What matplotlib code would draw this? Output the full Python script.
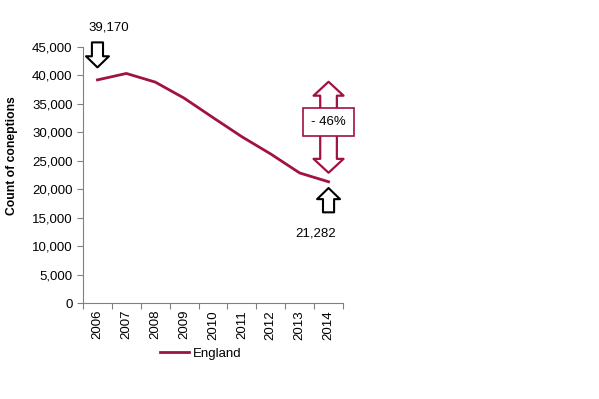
import matplotlib
matplotlib.use("Agg")
import matplotlib.pyplot as plt
import matplotlib.transforms as mtransforms
from matplotlib.ticker import FuncFormatter

# ----------------------------
# DATA
# ----------------------------

years = ["2006", "2007", "2008", "2009", "2010", "2011", "2012", "2013", "2014"]
conceptions = [39170, 40298, 38785, 35966, 32552, 29189, 26157, 22830, 21282]
series_name = "England"
change_label = "- 46%"

CRIMSON = "#A1123F"

plt.rcParams["font.family"] = ["Liberation Sans", "DejaVu Sans"]
plt.rcParams["font.size"] = 9.5

# ----------------------------
# PLOT
# ----------------------------

fig = plt.figure(figsize=(5.99, 3.99), dpi=100)
ax = fig.add_axes([0.1386, 0.2406, 0.4340, 0.6424])

x = list(range(len(years)))
ax.plot(x, conceptions, color=CRIMSON, lw=2, label=series_name)

ax.set_xlim(-0.5, len(years) - 0.5)
ax.set_ylim(0, 45000)
ax.set_yticks(range(0, 45001, 5000))
ax.yaxis.set_major_formatter(FuncFormatter(lambda v, p: f"{int(v):,}"))

# category boundaries as major ticks, labels on minor ticks
ax.set_xticks([i - 0.5 for i in range(len(years) + 1)])
ax.set_xticklabels([])
ax.set_xticks(x, minor=True)
ax.set_xticklabels(years, minor=True, rotation=90)
ax.tick_params(axis="x", which="minor", length=0, pad=5)
ax.tick_params(axis="both", which="major", length=4, direction="out", color="#808080")

for side in ["top", "right"]:
    ax.spines[side].set_visible(False)
for side in ["left", "bottom"]:
    ax.spines[side].set_color("#808080")

ax.set_ylabel("Count of coneptions", fontweight="bold", fontsize=8.7)
ax.yaxis.set_label_coords(-0.25, 0.574)

# ----------------------------
# ANNOTATIONS
# ----------------------------

first, last = conceptions[0], conceptions[-1]
n = len(years) - 1

black_arrow = dict(arrowstyle="simple,head_length=8,head_width=16.5,tail_width=8",
                   mutation_scale=1, fc="white", ec="black", lw=1.5, shrinkA=0)

ax.annotate("", xy=(0, first), xytext=(0, 27), textcoords="offset points",
            arrowprops=dict(black_arrow, shrinkB=9))
ax.annotate(f"{first:,}", xy=(0, first), xytext=(-6.5, 38), textcoords="offset points",
            ha="left", va="center")

ax.annotate("", xy=(n, last), xytext=(0, -22), textcoords="offset points",
            arrowprops=dict(black_arrow, shrinkB=4.5))
ax.annotate(f"{last:,}", xy=(n, last), xytext=(-9.5, -37), textcoords="offset points",
            ha="center", va="center")

red_arrow = dict(arrowstyle="simple,head_length=10,head_width=21.6,tail_width=12",
                 mutation_scale=1, fc="white", ec=CRIMSON, lw=1.6, shrinkA=0)

ax.annotate("", xy=(n, last), xytext=(0, 43), textcoords="offset points",
            arrowprops=dict(red_arrow, shrinkB=6.5))
up = mtransforms.offset_copy(ax.transData, fig=fig, x=0, y=72, units="points")
ax.annotate("", xy=(n, last), xycoords=up, xytext=(0, -29), textcoords="offset points",
            arrowprops=dict(red_arrow, shrinkB=0))
ax.annotate(change_label, xy=(n, last), xytext=(0, 43), textcoords="offset points",
            ha="center", va="center", zorder=5,
            bbox=dict(boxstyle="square,pad=0.6", fc="white", ec=CRIMSON, lw=1.2))

fig.legend(loc="center", bbox_to_anchor=(0.335, 0.113), frameon=False,
           handlelength=2.2, handletextpad=0.3)

fig.savefig("out.png", dpi=100)
